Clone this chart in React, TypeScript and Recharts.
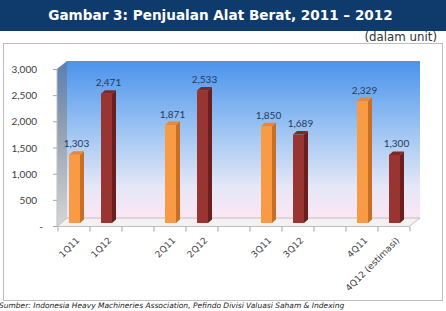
import React from 'react';
import { BarChart, Bar, XAxis, YAxis, Cell, LabelList } from 'recharts';

// Quarterly heavy-equipment sales (units); blank slots separate the quarter pairs
const quarters = ['1Q11', '1Q12', '', '2Q11', '2Q12', '', '3Q11', '3Q12', '', '4Q11', '4Q12 (estimasi)'];
const sales2011 = [1303, null, null, 1871, null, null, 1850, null, null, 2329, null];
const sales2012 = [null, 2471, null, null, 2533, null, null, 1689, null, null, 1300];
const yTicks = [0, 500, 1000, 1500, 2000, 2500, 3000];

const W = 446;
const H = 311;

// plot box (front plane) and the depth offset of the 3D walls
const PLOT_LEFT = 58;
const PLOT_RIGHT = 410;
const PLOT_TOP = 66;
const PLOT_BOTTOM = 223;
const WALL_DX = 10;
const WALL_DY = 8;
const BAR_DX = 4;
const BAR_DY = 3.5;

const shades: Record<number, { front: string; side: string; top: string }> = {
  2011: { front: '#f99a45', side: '#c86f25', top: '#e6873a' },
  2012: { front: '#983432', side: '#6a1f1e', top: '#7e2927' },
};

const FONT_VERDANA = "Verdana, 'DejaVu Sans', sans-serif";
const FONT_CALIBRI = "Lato, 'Open Sans', sans-serif";

const data = quarters.map((q, i) => {
  const v2011 = sales2011[i];
  const v2012 = sales2012[i];
  return {
    quarter: q,
    units: v2011 ?? v2012 ?? null,
    year: v2011 != null ? 2011 : 2012,
  };
});

const Bar3D = (props: any) => {
  const { x, y, width, height, payload } = props;
  if (payload == null || payload.units == null || !height) return null;
  const c = shades[payload.year];
  const x2 = x + width;
  const y2 = y + height;
  return (
    <g>
      <rect x={x} y={y} width={width} height={height} fill={c.front} />
      <polygon
        points={`${x2},${y} ${x2 + BAR_DX},${y - BAR_DY} ${x2 + BAR_DX},${y2 - BAR_DY} ${x2},${y2}`}
        fill={c.side}
      />
      <polygon
        points={`${x},${y} ${x + BAR_DX},${y - BAR_DY} ${x2 + BAR_DX},${y - BAR_DY} ${x2},${y}`}
        fill={c.top}
      />
    </g>
  );
};

const ValueLabel = (props: any) => {
  const { x, y, width, value } = props;
  if (value == null) return null;
  return (
    <text
      x={x + (width + BAR_DX) / 2}
      y={y - BAR_DY - 4}
      textAnchor="middle"
      fontFamily={FONT_CALIBRI}
      fontSize={10}
      fill="#1f3a60"
    >
      {Number(value).toLocaleString('en-US')}
    </text>
  );
};

const XTick = (props: any) => {
  const { x, y, payload, index } = props;
  const half = (PLOT_RIGHT - PLOT_LEFT) / quarters.length / 2;
  const floorY = y + 3.5;
  const tx = x + 6;
  const ty = y + 18;
  return (
    <g>
      <line x1={x - half} y1={floorY} x2={x - half} y2={floorY + 5} stroke="#a6a6a6" />
      {index === quarters.length - 1 && (
        <line x1={x + half} y1={floorY} x2={x + half} y2={floorY + 5} stroke="#a6a6a6" />
      )}
      <text
        x={tx}
        y={ty}
        textAnchor="end"
        transform={`rotate(-45, ${tx}, ${ty})`}
        fontFamily={FONT_VERDANA}
        fontSize={9}
        fill="#404040"
      >
        {payload.value}
      </text>
    </g>
  );
};

const YTick = (props: any) => {
  const { x, y, payload } = props;
  const v = payload.value as number;
  return (
    <g>
      <line x1={x - 5} y1={y + 3.5} x2={x - 1} y2={y + 3.5} stroke="#a6a6a6" />
      <text
        x={v === 0 ? x - 15 : x - 21}
        y={y + 7}
        textAnchor="end"
        fontFamily={FONT_CALIBRI}
        fontSize={10}
        fill="#404040"
      >
        {v === 0 ? '-' : v.toLocaleString('en-US')}
      </text>
    </g>
  );
};

// back wall, side wall and floor of the 3D plot box
const Walls = () => {
  const backL = PLOT_LEFT + WALL_DX - 1;
  const backR = PLOT_RIGHT + WALL_DX;
  const backT = PLOT_TOP - WALL_DY + 3;
  const backB = PLOT_BOTTOM - 5;
  const frontB = PLOT_BOTTOM + 3.5;
  const frontL = PLOT_LEFT - 1;
  return (
    <svg width={W} height={H} style={{ position: 'absolute', left: 0, top: 0 }}>
      <defs>
        <linearGradient id="backWall" x1="0" y1="0" x2="0" y2="1">
          <stop offset="0%" stopColor="#4b93ec" />
          <stop offset="45%" stopColor="#9fc5f2" />
          <stop offset="80%" stopColor="#e4e7f7" />
          <stop offset="100%" stopColor="#fde6f4" />
        </linearGradient>
        <linearGradient id="sideWall" x1="0" y1="0" x2="0" y2="1">
          <stop offset="0%" stopColor="#5a7eb2" />
          <stop offset="45%" stopColor="#97a3b3" />
          <stop offset="100%" stopColor="#d6d6d6" />
        </linearGradient>
      </defs>
      <rect x={backL} y={backT} width={backR - backL} height={backB - backT} fill="url(#backWall)" />
      <polygon
        points={`${frontL},${backT + WALL_DY} ${backL},${backT} ${backL},${backB} ${frontL},${frontB}`}
        fill="url(#sideWall)"
      />
      <polygon
        points={`${frontL},${frontB} ${PLOT_RIGHT - 1},${frontB} ${backR},${backB} ${backL},${backB}`}
        fill="#f2f2f2"
        stroke="#bfbfbf"
        strokeWidth={1}
      />
      <line x1={frontL} y1={backT + WALL_DY} x2={frontL} y2={frontB} stroke="#bfbfbf" />
    </svg>
  );
};

export default function App() {
  return (
    <div
      style={{
        position: 'absolute',
        left: 0,
        top: 0,
        width: W,
        height: H,
        background: '#ffffff',
        overflow: 'hidden',
      }}
    >
      <div
        style={{
          position: 'absolute',
          left: 0,
          top: 0,
          width: W,
          height: 31,
          background: '#0e3a6c',
          color: '#ffffff',
          fontFamily: FONT_VERDANA,
          fontWeight: 'bold',
          fontSize: 13.6,
          lineHeight: '31px',
          textAlign: 'center',
          textIndent: -5,
        }}
      >
        Gambar 3: Penjualan Alat Berat, 2011 – 2012
      </div>
      <div
        style={{
          position: 'absolute',
          right: 9,
          top: 30,
          fontFamily: FONT_VERDANA,
          fontSize: 11.8,
          color: '#333333',
          lineHeight: '14px',
        }}
      >
        (dalam unit)
      </div>
      <div
        style={{
          position: 'absolute',
          left: 3,
          top: 43,
          width: 438,
          height: 256,
          border: '1px solid #bdbdbd',
        }}
      />
      <Walls />
      <div style={{ position: 'absolute', left: 0, top: 0 }}>
        <BarChart
          width={W}
          height={H}
          data={data}
          margin={{ top: PLOT_TOP, right: W - PLOT_RIGHT, bottom: 0, left: 0 }}
          barCategoryGap={0}
        >
          <XAxis
            dataKey="quarter"
            height={H - PLOT_BOTTOM}
            axisLine={false}
            tickLine={false}
            tickSize={0}
            tickMargin={0}
            interval={0}
            tick={<XTick />}
          />
          <YAxis
            width={PLOT_LEFT}
            domain={[0, 3000]}
            ticks={yTicks}
            axisLine={false}
            tickLine={false}
            tickSize={0}
            tickMargin={0}
            tick={<YTick />}
          />
          <Bar dataKey="units" barSize={11} shape={<Bar3D />} isAnimationActive={false}>
            {data.map((d, i) => (
              <Cell key={i} fill={shades[d.year].front} />
            ))}
            <LabelList dataKey="units" content={<ValueLabel />} />
          </Bar>
        </BarChart>
      </div>
      <div
        style={{
          position: 'absolute',
          left: -1,
          top: 301,
          fontFamily: FONT_VERDANA,
          fontStyle: 'italic',
          fontSize: 7.5,
          color: '#222222',
          whiteSpace: 'nowrap',
          lineHeight: '10px',
        }}
      >
        Sumber: Indonesia Heavy Machineries Association, Pefindo Divisi Valuasi Saham &amp; Indexing
      </div>
    </div>
  );
}
